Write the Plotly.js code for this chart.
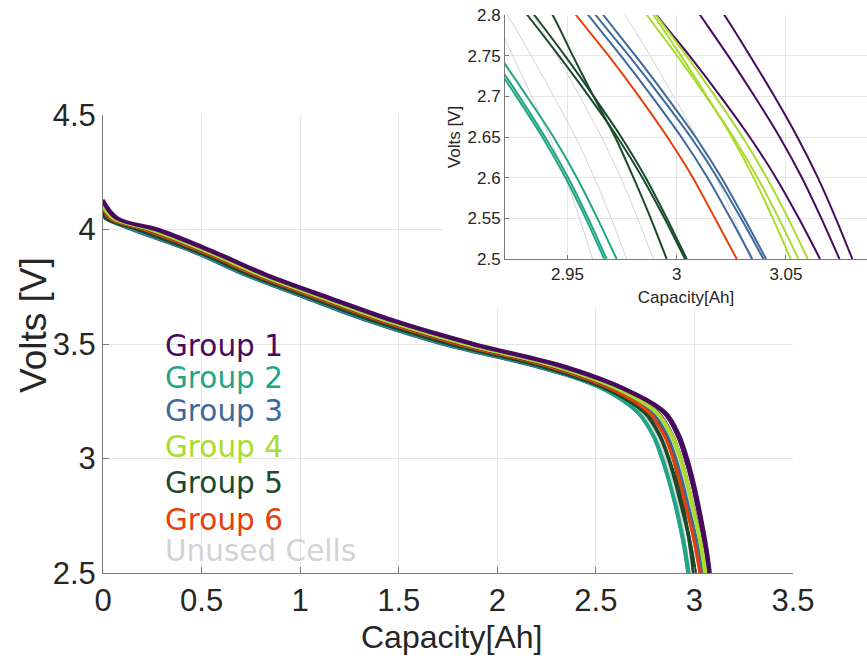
<!DOCTYPE html>
<html><head><meta charset="utf-8">
<script src="https://cdn.plot.ly/plotly-3.0.1.min.js"></script>
<style>html,body{margin:0;padding:0;background:#fff;}#chart{width:867px;height:665px;}</style>
</head><body><div id="chart"></div>
<script>
// Voltage levels shared by every cell (after the first point at capacity 0)
const VLEVELS = [4.05, 4.0, 3.9, 3.8, 3.7, 3.6, 3.5, 3.4, 3.3, 3.2, 3.1, 3.0, 2.9, 2.8, 2.75, 2.7, 2.65, 2.6, 2.55, 2.5];

// Group 1 (purple)
const group1V0 = [4.10, 4.12, 4.13];
const group1Cap = [
  [0.043, 0.229, 0.530, 0.794, 1.108, 1.432, 1.821, 2.292, 2.615, 2.815, 2.890, 2.932, 2.964, 2.9908, 3.0058, 3.0200, 3.0334, 3.0454, 3.0559, 3.0656],
  [0.063, 0.264, 0.558, 0.823, 1.141, 1.468, 1.864, 2.330, 2.647, 2.843, 2.913, 2.953, 2.985, 3.0107, 3.0235, 3.0356, 3.0471, 3.0573, 3.0662, 3.0745],
  [0.075, 0.285, 0.575, 0.840, 1.160, 1.490, 1.890, 2.353, 2.660, 2.855, 2.925, 2.965, 2.996, 3.0218, 3.0335, 3.0447, 3.0552, 3.0646, 3.0728, 3.0804]
];
// Group 2 (teal)
const group2V0 = [4.08, 4.08, 4.08];
const group2Cap = [
  [0.014, 0.173, 0.485, 0.747, 1.056, 1.373, 1.752, 2.231, 2.548, 2.716, 2.793, 2.839, 2.874, 2.9052, 2.9187, 2.9314, 2.9436, 2.9543, 2.9637, 2.9725],
  [0.013, 0.166, 0.480, 0.741, 1.050, 1.366, 1.744, 2.224, 2.544, 2.713, 2.790, 2.835, 2.871, 2.9023, 2.9154, 2.9279, 2.9397, 2.9503, 2.9595, 2.9679],
  [0.012, 0.163, 0.477, 0.738, 1.046, 1.362, 1.740, 2.220, 2.542, 2.712, 2.789, 2.834, 2.870, 2.9008, 2.9140, 2.9266, 2.9385, 2.9491, 2.9584, 2.9668]
];
// Group 3 (blue)
const group3V0 = [4.07, 4.07, 4.07];
const group3Cap = [
  [0.012, 0.145, 0.463, 0.724, 1.030, 1.344, 1.718, 2.201, 2.569, 2.777, 2.854, 2.898, 2.932, 2.9595, 2.9744, 2.9886, 3.0021, 3.0141, 3.0246, 3.0346],
  [0.014, 0.152, 0.469, 0.730, 1.037, 1.351, 1.727, 2.209, 2.573, 2.780, 2.857, 2.901, 2.935, 2.9629, 2.9781, 2.9926, 3.0064, 3.0186, 3.0294, 3.0397],
  [0.015, 0.159, 0.474, 0.736, 1.043, 1.359, 1.735, 2.216, 2.577, 2.784, 2.861, 2.905, 2.938, 2.9664, 2.9811, 2.9952, 3.0086, 3.0205, 3.0309, 3.0409]
];
// Group 4 (lime)
const group4V0 = [4.10, 4.11, 4.11];
const group4Cap = [
  [0.048, 0.236, 0.535, 0.799, 1.114, 1.439, 1.830, 2.300, 2.618, 2.806, 2.883, 2.927, 2.959, 2.9863, 3.0002, 3.0134, 3.0259, 3.0370, 3.0467, 3.0557],
  [0.052, 0.243, 0.541, 0.805, 1.121, 1.446, 1.838, 2.307, 2.622, 2.809, 2.886, 2.930, 2.962, 2.9893, 3.0019, 3.0138, 3.0252, 3.0352, 3.0440, 3.0522],
  [0.055, 0.250, 0.547, 0.811, 1.128, 1.454, 1.847, 2.315, 2.625, 2.811, 2.888, 2.932, 2.964, 2.9905, 3.0044, 3.0176, 3.0301, 3.0412, 3.0510, 3.0600]
];
// Group 5 (dark green)
const group5V0 = [4.08, 4.08, 4.09];
const group5Cap = [
  [0.014, 0.173, 0.485, 0.747, 1.056, 1.373, 1.752, 2.231, 2.563, 2.746, 2.823, 2.868, 2.902, 2.9316, 2.9460, 2.9598, 2.9728, 2.9843, 2.9944, 3.0038],
  [0.015, 0.180, 0.491, 0.753, 1.063, 1.381, 1.761, 2.239, 2.567, 2.749, 2.826, 2.871, 2.906, 2.9348, 2.9488, 2.9620, 2.9746, 2.9858, 2.9955, 3.0046],
  [0.023, 0.194, 0.502, 0.765, 1.076, 1.395, 1.778, 2.254, 2.577, 2.765, 2.850, 2.893, 2.920, 2.9432, 2.9524, 2.9619, 2.9718, 2.9802, 2.9881, 2.9954]
];
// Group 6 (orange)
const group6V0 = [4.10];
const group6Cap = [
  [0.031, 0.208, 0.513, 0.776, 1.089, 1.410, 1.795, 2.269, 2.588, 2.770, 2.847, 2.892, 2.925, 2.9539, 2.9688, 2.9827, 2.9957, 3.0074, 3.0175, 3.0275]
];
// Unused cells (light grey)
const unusedV0 = [4.07, 4.07, 4.07, 4.09];
const unusedCap = [
  [0.014, 0.152, 0.469, 0.730, 1.037, 1.351, 1.727, 2.209, 2.551, 2.736, 2.813, 2.858, 2.893, 2.9224, 2.9333, 2.9437, 2.9536, 2.9623, 2.9700, 2.9771],
  [0.011, 0.138, 0.457, 0.718, 1.024, 1.337, 1.709, 2.193, 2.542, 2.728, 2.805, 2.851, 2.886, 2.9157, 2.9249, 2.9336, 2.9418, 2.9491, 2.9555, 2.9615],
  [0.015, 0.159, 0.474, 0.736, 1.043, 1.359, 1.735, 2.216, 2.560, 2.748, 2.825, 2.870, 2.905, 2.9340, 2.9451, 2.9556, 2.9655, 2.9744, 2.9821, 2.9893],
  [0.031, 0.208, 0.513, 0.776, 1.089, 1.410, 1.795, 2.269, 2.600, 2.795, 2.872, 2.916, 2.949, 2.9763, 2.9878, 2.9986, 3.0090, 3.0181, 3.0262, 3.0336]
];

const legendLabels = ['Group 1', 'Group 2', 'Group 3', 'Group 4', 'Group 5', 'Group 6', 'Unused Cells'];
const mainXTicks = [0, 0.5, 1, 1.5, 2, 2.5, 3, 3.5];
const mainXTickText = ['0', '0.5', '1', '1.5', '2', '2.5', '3', '3.5'];
const mainYTicks = [2.5, 3, 3.5, 4, 4.5];
const mainYTickText = ['2.5', '3', '3.5', '4', '4.5'];
const insetXTicks = [2.95, 3, 3.05];
const insetXTickText = ['2.95', '3', '3.05'];
const insetYTicks = [2.5, 2.55, 2.6, 2.65, 2.7, 2.75, 2.8];
const insetYTickText = ['2.5', '2.55', '2.6', '2.65', '2.7', '2.75', '2.8'];

const COLORS = {g1:'#470a5e', g2:'#22a584', g3:'#3e699b', g4:'#a9dc2e', g5:'#1a4a2c', g6:'#e3420c', un:'#d3d3d3'};

// draw order of individual cells: [data, v0, cell index, colour, main width, inset width]
const order = [
  [unusedCap, unusedV0, 0, COLORS.un, 1.6, 1], [unusedCap, unusedV0, 1, COLORS.un, 1.6, 1],
  [unusedCap, unusedV0, 2, COLORS.un, 1.6, 1], [unusedCap, unusedV0, 3, COLORS.un, 1.6, 1],
  [group3Cap, group3V0, 0, COLORS.g3, 3.2, 2], [group3Cap, group3V0, 1, COLORS.g3, 3.2, 2], [group3Cap, group3V0, 2, COLORS.g3, 3.2, 2],
  [group2Cap, group2V0, 0, COLORS.g2, 3.2, 2], [group2Cap, group2V0, 1, COLORS.g2, 3.2, 2], [group2Cap, group2V0, 2, COLORS.g2, 3.2, 2],
  [group5Cap, group5V0, 0, COLORS.g5, 3.2, 2], [group5Cap, group5V0, 1, COLORS.g5, 3.2, 2], [group5Cap, group5V0, 2, COLORS.g5, 3.2, 2],
  [group6Cap, group6V0, 0, COLORS.g6, 3.2, 2],
  [group1Cap, group1V0, 0, COLORS.g1, 3.2, 2],
  [group4Cap, group4V0, 0, COLORS.g4, 3.2, 2], [group4Cap, group4V0, 1, COLORS.g4, 3.2, 2], [group4Cap, group4V0, 2, COLORS.g4, 3.2, 2],
  [group1Cap, group1V0, 1, COLORS.g1, 3.2, 2], [group1Cap, group1V0, 2, COLORS.g1, 3.2, 2]
];

const mainTraces = [], insetTraces = [];
order.forEach(([cap, v0, i, color, wm, wi]) => {
  const xs = [0].concat(cap[i]);
  const ys = [v0[i]].concat(VLEVELS);
  mainTraces.push({type:'scatter', mode:'lines', x: xs, y: ys, xaxis:'x', yaxis:'y',
    line:{color:color, width:wm, shape:'spline', smoothing:1}, showlegend:false, hoverinfo:'skip'});
  insetTraces.push({type:'scatter', mode:'lines', x: xs, y: ys, xaxis:'x3', yaxis:'y3',
    line:{color:color, width:wi, shape:'spline', smoothing:0.8}, showlegend:false, hoverinfo:'skip'});
});
const coverTrace = {type:'scatter', mode:'lines', x:[], y:[], xaxis:'x2', yaxis:'y2', showlegend:false, hoverinfo:'skip'};

const W = 867, H = 665;
const fx = p => p / W;
const fy = p => 1 - p / H;

const txt = '#262626';
const axLine = '#7a7a7a';
const gridC = '#e6e6e6';
const sans = 'Liberation Sans, Arial, Helvetica, sans-serif';

const legendColors = [COLORS.g1, COLORS.g2, COLORS.g3, COLORS.g4, COLORS.g5, COLORS.g6, COLORS.un];
const legendY = [346, 378, 411, 447, 483, 520, 551];
const annotations = legendLabels.map((t, i) => ({
  text: t, xref:'paper', yref:'paper', x: fx(163), y: fy(legendY[i]), xanchor:'left', yanchor:'middle',
  showarrow:false, font:{family:'DejaVu Sans, Verdana, sans-serif', size:29.5, color: legendColors[i]}
}));
annotations.push({text:'Capacity[Ah]', xref:'paper', yref:'paper', x: fx(451), y: fy(637), xanchor:'center', yanchor:'middle',
  showarrow:false, font:{family:sans, size:32, color:txt}});
annotations.push({text:'Volts [V]', xref:'paper', yref:'paper', x: fx(33), y: fy(325), xanchor:'center', yanchor:'middle', textangle:-90,
  showarrow:false, font:{family:sans, size:37, color:txt}});

const layout = {
  width: W, height: H,
  margin:{l:0, r:0, t:0, b:0},
  paper_bgcolor:'#ffffff', plot_bgcolor:'#ffffff',
  showlegend:false,
  font:{family:sans, color:txt},
  xaxis:{domain:[fx(103), fx(793)], anchor:'y', range:[0, 3.5], tickmode:'array', tickvals: mainXTicks, ticktext: mainXTickText,
    ticks:'inside', ticklen:6, tickcolor:axLine, showline:true, linecolor:axLine, linewidth:1, mirror:false,
    showgrid:true, gridcolor:gridC, zeroline:false, tickfont:{family:sans, size:31, color:txt}, fixedrange:true},
  yaxis:{domain:[fy(573), fy(115)], anchor:'x', range:[2.5, 4.5], tickmode:'array', tickvals: mainYTicks, ticktext: mainYTickText,
    ticks:'inside', ticklen:6, tickcolor:axLine, showline:true, linecolor:axLine, linewidth:1, mirror:false,
    showgrid:true, gridcolor:gridC, zeroline:false, tickfont:{family:sans, size:31, color:txt}, fixedrange:true},
  xaxis2:{domain:[fx(443), 1], anchor:'y2', visible:false, range:[0,1], fixedrange:true},
  yaxis2:{domain:[fy(308), 1], anchor:'x2', visible:false, range:[0,1], fixedrange:true},
  xaxis3:{domain:[fx(505), 1], anchor:'y3', range:[2.9214, 3.0871], tickmode:'array', tickvals: insetXTicks, ticktext: insetXTickText,
    ticks:'inside', ticklen:4, tickcolor:axLine, showline:true, linecolor:axLine, linewidth:1, mirror:false,
    showgrid:true, gridcolor:gridC, zeroline:false, tickfont:{size:17, color:txt},
    title:{text:'Capacity[Ah]', font:{size:17, color:txt}, standoff:7}, fixedrange:true},
  yaxis3:{domain:[fy(259), fy(15)], anchor:'x3', range:[2.5, 2.8], tickmode:'array', tickvals: insetYTicks, ticktext: insetYTickText,
    ticks:'inside', ticklen:4, tickcolor:axLine, showline:true, linecolor:axLine, linewidth:1, mirror:false,
    showgrid:true, gridcolor:gridC, zeroline:false, tickfont:{size:17, color:txt},
    title:{text:'Volts [V]', font:{size:17, color:txt}, standoff:2}, fixedrange:true},
  annotations: annotations
};

Plotly.newPlot('chart', mainTraces.concat([coverTrace]).concat(insetTraces), layout, {staticPlot:true, displayModeBar:false});
</script>
</body></html>
